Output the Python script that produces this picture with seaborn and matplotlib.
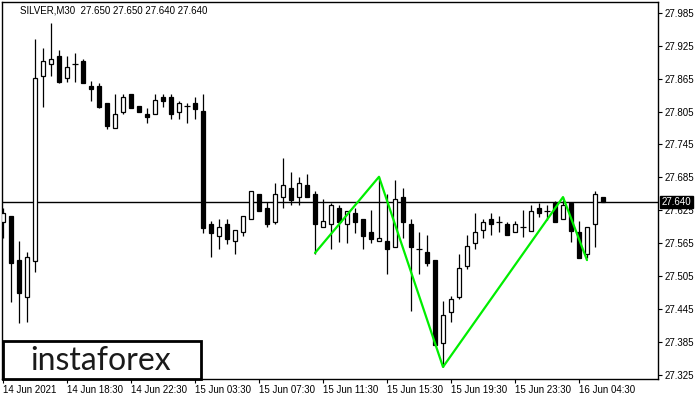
import numpy as np
import pandas as pd
import matplotlib
matplotlib.use("Agg")
import matplotlib.pyplot as plt
import seaborn as sns
from matplotlib.patches import Rectangle

# ---- data (SILVER, M30) ----
opens = [27.604, 27.614, 27.534, 27.467, 27.532, 27.870, 27.892, 27.906, 27.866, 27.892,
         27.897, 27.852, 27.852, 27.821, 27.775, 27.804, 27.837, 27.815, 27.801, 27.801,
         27.832, 27.832, 27.804, 27.815, 27.821, 27.806, 27.600, 27.578, 27.600, 27.569,
         27.585, 27.609, 27.655, 27.629, 27.604, 27.649, 27.666, 27.649, 27.671, 27.655,
         27.594, 27.600, 27.629, 27.600, 27.620, 27.609, 27.585, 27.569, 27.569, 27.558,
         27.649, 27.600, 27.554, 27.549, 27.534, 27.383, 27.439, 27.467, 27.523, 27.565,
         27.589, 27.609, 27.604, 27.600, 27.585, 27.594, 27.587, 27.629, 27.624, 27.638,
         27.609, 27.638, 27.585, 27.545, 27.600, 27.650]
highs = [27.629, 27.614, 27.569, 27.549, 27.937, 27.921, 27.967, 27.917, 27.906, 27.912,
         27.901, 27.861, 27.857, 27.821, 27.837, 27.837, 27.837, 27.815, 27.812, 27.837,
         27.837, 27.837, 27.824, 27.821, 27.832, 27.837, 27.605, 27.609, 27.609, 27.589,
         27.614, 27.660, 27.655, 27.640, 27.675, 27.720, 27.695, 27.686, 27.691, 27.660,
         27.645, 27.638, 27.635, 27.624, 27.629, 27.609, 27.625, 27.686, 27.655, 27.680,
         27.666, 27.609, 27.585, 27.580, 27.534, 27.459, 27.468, 27.545, 27.580, 27.620,
         27.609, 27.620, 27.614, 27.604, 27.605, 27.625, 27.635, 27.638, 27.635, 27.642,
         27.649, 27.638, 27.605, 27.594, 27.660, 27.650]
lows = [27.574, 27.458, 27.419, 27.421, 27.512, 27.813, 27.870, 27.857, 27.859, 27.859,
        27.857, 27.824, 27.812, 27.773, 27.775, 27.801, 27.812, 27.804, 27.784, 27.801,
        27.813, 27.791, 27.791, 27.784, 27.791, 27.583, 27.540, 27.554, 27.563, 27.545,
        27.578, 27.609, 27.624, 27.594, 27.600, 27.629, 27.635, 27.635, 27.649, 27.545,
        27.594, 27.554, 27.567, 27.565, 27.583, 27.554, 27.565, 27.569, 27.509, 27.558,
        27.574, 27.441, 27.509, 27.523, 27.379, 27.339, 27.421, 27.463, 27.518, 27.554,
        27.574, 27.580, 27.585, 27.580, 27.585, 27.576, 27.587, 27.613, 27.607, 27.604,
        27.609, 27.567, 27.538, 27.538, 27.558, 27.640]
closes = [27.620, 27.529, 27.474, 27.540, 27.866, 27.897, 27.901, 27.859, 27.886, 27.892,
          27.857, 27.846, 27.813, 27.779, 27.801, 27.832, 27.812, 27.804, 27.795, 27.826,
          27.824, 27.801, 27.821, 27.815, 27.810, 27.593, 27.583, 27.594, 27.572, 27.589,
          27.614, 27.660, 27.624, 27.600, 27.655, 27.671, 27.644, 27.675, 27.649, 27.600,
          27.605, 27.635, 27.604, 27.624, 27.604, 27.578, 27.572, 27.574, 27.554, 27.645,
          27.604, 27.558, 27.554, 27.529, 27.379, 27.434, 27.463, 27.520, 27.560, 27.585,
          27.604, 27.600, 27.604, 27.580, 27.600, 27.594, 27.624, 27.620, 27.624, 27.604,
          27.635, 27.587, 27.538, 27.594, 27.655, 27.640]

time_tick_bars = [0, 8, 16, 24, 32, 40, 48, 56, 64, 72]
time_tick_labels = ["14 Jun 2021", "14 Jun 18:30", "14 Jun 22:30", "15 Jun 03:30",
                    "15 Jun 07:30", "15 Jun 11:30", "15 Jun 15:30", "15 Jun 19:30",
                    "15 Jun 23:30", "16 Jun 04:30"]
price_ticks = [27.325, 27.385, 27.445, 27.505, 27.565, 27.625, 27.685, 27.745,
               27.805, 27.865, 27.925, 27.985]
price_tick_labels = ["27.325", "27.385", "27.445", "27.505", "27.565", "27.625",
                     "27.685", "27.745", "27.805", "27.865", "27.925", "27.985"]
zigzag_bars = [39, 47, 55, 70, 73]
zigzag_prices = [27.547, 27.686, 27.339, 27.649, 27.534]
last_price = 27.640
header = "SILVER,M30  27.650 27.650 27.640 27.640"

df = pd.DataFrame({"bar": np.arange(len(opens)), "open": opens, "high": highs,
                   "low": lows, "close": closes})

sns.set_theme(style="white")
plt.rcParams["font.family"] = ["Liberation Sans", "DejaVu Sans"]

fig = plt.figure(figsize=(7, 4), dpi=100)
ax = fig.add_axes([2 / 700, 21 / 400, 656 / 700, 377 / 400])
ax.set_facecolor("white")

# wicks
ax.vlines(df["bar"], df["low"], df["high"], color="black", linewidth=0.9, zorder=2)

# bodies
body = df[df["open"] != df["close"]]
up = body[body["close"] > body["open"]]
down = body[body["close"] < body["open"]]
ax.bar(up["bar"], up["close"] - up["open"], bottom=up["open"], width=0.55,
       color="white", edgecolor="black", linewidth=0.9, zorder=3)
ax.bar(down["bar"], down["open"] - down["close"], bottom=down["close"], width=0.55,
       color="black", edgecolor="black", linewidth=0.9, zorder=3)
doji = df[df["open"] == df["close"]]
ax.hlines(doji["open"], doji["bar"] - 0.32, doji["bar"] + 0.32, color="black",
          linewidth=0.9, zorder=3)

# last price line
ax.axhline(last_price, color="black", linewidth=1.0, zorder=1)

# zigzag pattern
sns.lineplot(x=zigzag_bars, y=zigzag_prices, sort=False, estimator=None,
             color="#00ee00", linewidth=1.6, ax=ax, zorder=4)

ax.set_xlim(-0.125, 81.875)
ax.set_ylim(27.317, 28.005)

ax.yaxis.tick_right()
ax.set_yticks(price_ticks)
ax.set_yticklabels(price_tick_labels)
ax.set_xticks(time_tick_bars)
ax.set_xticklabels(time_tick_labels)
for lbl in ax.get_xticklabels():
    lbl.set_horizontalalignment("left")
ax.tick_params(axis="y", direction="out", length=3, width=0.8, labelsize=7,
               pad=2, colors="black", right=True, left=False)
ax.tick_params(axis="x", direction="out", length=3, width=0.8, labelsize=7,
               pad=1, colors="black", bottom=True)
ax.set_xlabel("")
ax.set_ylabel("")
for s in ax.spines.values():
    s.set_color("black")
    s.set_linewidth(1.0)
    s.set_visible(True)

# header text
ax.text(18 / 656, 1 - 8.5 / 377, header, transform=ax.transAxes, fontsize=7,
        va="center", ha="left", color="black")

# last price label on the right
ax.annotate("27.640", xy=(1, last_price), xycoords=("axes fraction", "data"),
            xytext=(2.5, 0), textcoords="offset points", ha="left", va="center",
            fontsize=7, color="white", annotation_clip=False, zorder=10,
            bbox=dict(boxstyle="square,pad=0.15", fc="black", ec="black"))

# watermark logo box
logo = Rectangle((3 / 700, 21 / 400), 198 / 700, 38 / 400, transform=fig.transFigure,
                 facecolor="white", edgecolor="black", linewidth=2, zorder=20)
fig.add_artist(logo)
fig.text(100.5 / 700, 1 - 361 / 400, "instaforex", fontsize=23, family=["Lato", "DejaVu Sans"],
         weight="normal", color="#1a1a1a", ha="center", va="center", zorder=21)

fig.savefig("out.png", dpi=100)
